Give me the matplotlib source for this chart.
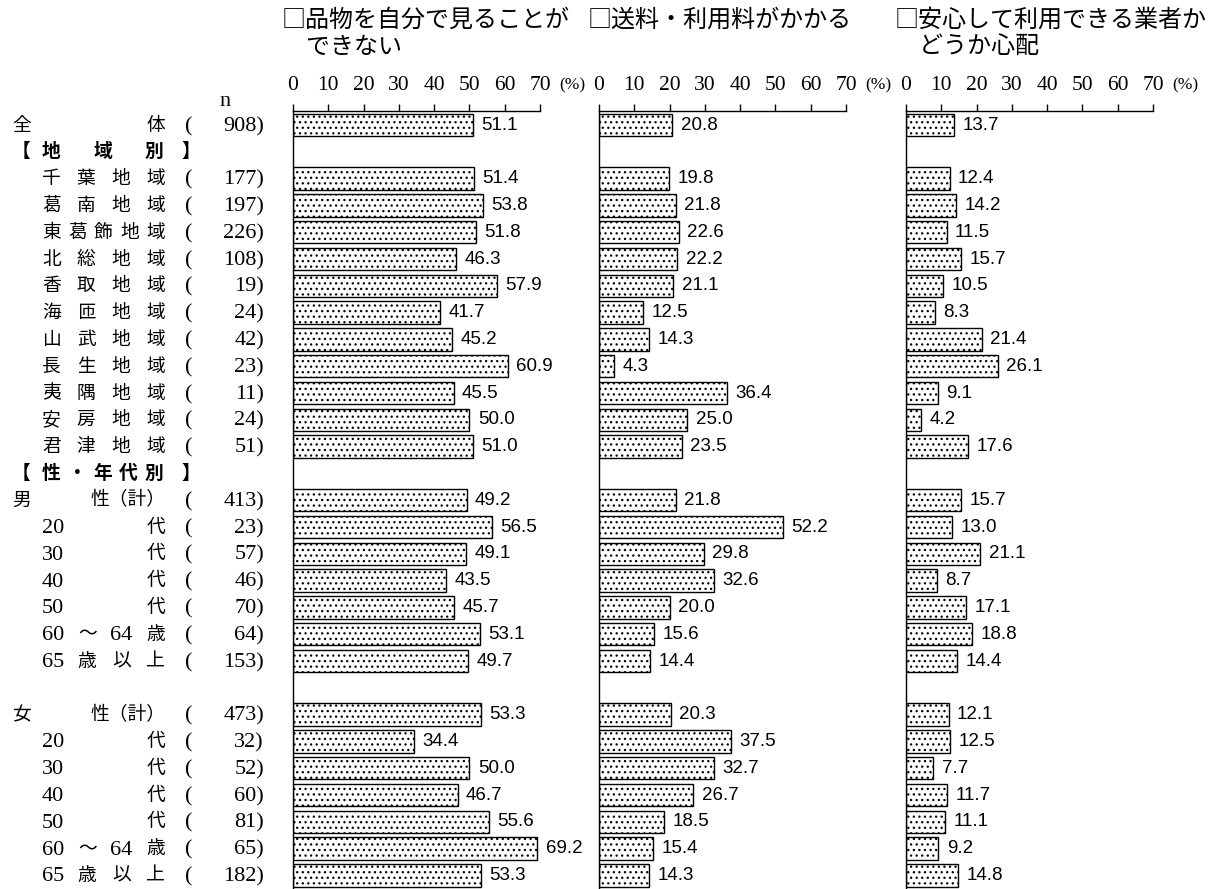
import matplotlib
matplotlib.use("Agg")
import matplotlib.pyplot as plt
from matplotlib.transforms import blended_transform_factory

# Data --------------------------------------------------------------
titles = [
    ["□品物を自分で見ることが", "　できない"],
    ["□送料・利用料がかかる"],
    ["□安心して利用できる業者か", "　どうか心配"],
]

# row labels (None = spacer row, "H:" = section header)
row_labels = [
    "全体",
    "H:地域別",
    "千葉地域", "葛南地域", "東葛飾地域", "北総地域", "香取地域", "海匝地域",
    "山武地域", "長生地域", "夷隅地域", "安房地域", "君津地域",
    "H:性・年代別",
    "男性（計）", "20代", "30代", "40代", "50代", "60～64歳", "65歳以上",
    None,
    "女性（計）", "20代", "30代", "40代", "50代", "60～64歳", "65歳以上",
]

n_counts = [
    908,
    None,
    177, 197, 226, 108, 19, 24, 42, 23, 11, 24, 51,
    None,
    413, 23, 57, 46, 70, 64, 153,
    None,
    473, 32, 52, 60, 81, 65, 182,
]

cannot_see_goods = [
    51.1,
    None,
    51.4, 53.8, 51.8, 46.3, 57.9, 41.7, 45.2, 60.9, 45.5, 50.0, 51.0,
    None,
    49.2, 56.5, 49.1, 43.5, 45.7, 53.1, 49.7,
    None,
    53.3, 34.4, 50.0, 46.7, 55.6, 69.2, 53.3,
]

shipping_fees = [
    20.8,
    None,
    19.8, 21.8, 22.6, 22.2, 21.1, 12.5, 14.3, 4.3, 36.4, 25.0, 23.5,
    None,
    21.8, 52.2, 29.8, 32.6, 20.0, 15.6, 14.4,
    None,
    20.3, 37.5, 32.7, 26.7, 18.5, 15.4, 14.3,
]

trustworthy_seller = [
    13.7,
    None,
    12.4, 14.2, 11.5, 15.7, 10.5, 8.3, 21.4, 26.1, 9.1, 4.2, 17.6,
    None,
    15.7, 13.0, 21.1, 8.7, 17.1, 18.8, 14.4,
    None,
    12.1, 12.5, 7.7, 11.7, 11.1, 9.2, 14.8,
]

series = [cannot_see_goods, shipping_fees, trustworthy_seller]
xticks = [0, 10, 20, 30, 40, 50, 60, 70]

# Layout (pixels) ------------------------------------------------------
W, H = 1221, 889
panel_left = [293, 599, 906]
panel_width = 247
axis_top = 111
row0_y = 125
row_step = 26.8

jp = ["Noto Sans CJK JP", "DejaVu Sans"]
serif = ["Liberation Serif", "DejaVu Serif"]
num_font = ["Liberation Sans", "DejaVu Sans"]

plt.rcParams["font.family"] = jp
plt.rcParams["hatch.linewidth"] = 0.9
plt.rcParams["hatch.color"] = "#3a3a3a"

jp_fs = 13.5      # kanji / kana in the row labels
digit_fs = 16     # latin digits and brackets in the row labels
serif_drop = 1.5 / row_step   # serif glyphs sit a little high when centred


def fx(px):
    return px / W


def fy(py):
    return 1 - py / H


def row_of(py):
    return (py - row0_y) / row_step


fig = plt.figure(figsize=(W / 100, H / 100), dpi=100)

ylo = row_of(H)
yhi = row_of(axis_top)

axes = []
for k, vals in enumerate(series):
    ax = fig.add_axes([fx(panel_left[k]), 0, fx(panel_width), 1 - axis_top / H])
    axes.append(ax)
    ys = [i for i, v in enumerate(vals) if v is not None]
    ws = [v for v in vals if v is not None]
    ax.barh(ys, ws, height=0.84, color="white", edgecolor="black",
            linewidth=1.0, hatch="...")
    for y, v in zip(ys, ws):
        ax.annotate(f"{v:.1f}", xy=(v, y), xytext=(6, 0), textcoords="offset points",
                    va="center", ha="left", fontsize=13.5, family=num_font)
    ax.set_xlim(0, 70)
    ax.set_ylim(ylo, yhi)
    ax.set_xticks(xticks)
    ax.xaxis.tick_top()
    ax.tick_params(axis="x", direction="out", length=5, width=1, pad=6.5,
                   labelsize=15.5)
    for lab in ax.get_xticklabels():
        lab.set_family(serif)
    ax.set_yticks([])
    for side in ["right", "bottom"]:
        ax.spines[side].set_visible(False)
    ax.spines["top"].set_linewidth(1.0)
    ax.spines["left"].set_linewidth(1.0)
    ax.patch.set_alpha(0)

    # unit after the last tick
    fig.text(fx(panel_left[k] + panel_width + 19), fy(89), "(%)", fontsize=12.5,
             family=serif, ha="left", va="baseline")

    # panel heading
    for j, line in enumerate(titles[k]):
        fig.text(fx(panel_left[k] - 11), fy(20 + 27 * j), line, fontsize=17.3,
                 ha="left", va="center")

# Row labels -------------------------------------------------------------
trans = blended_transform_factory(fig.transFigure, axes[0].transData)


def is_latin(tok):
    return all(ord(c) < 256 for c in tok)


def approx_width(tok, fs):
    em = fs * 100 / 72
    return sum(em if ord(c) > 255 else 0.5 * em for c in tok)


def put(x, y, tok, ha, **extra):
    if is_latin(tok):
        fig.text(fx(x), y + serif_drop, tok, ha=ha, va="center", transform=trans,
                 fontsize=digit_fs, family=serif, **extra)
    else:
        fig.text(fx(x), y, tok, ha=ha, va="center", transform=trans,
                 fontsize=jp_fs, family=jp, **extra)


def spread(tokens, x0, x1, y, **extra):
    sizes = [digit_fs if is_latin(t) else jp_fs for t in tokens]
    widths = [approx_width(t, s) for t, s in zip(tokens, sizes)]
    if len(tokens) == 1:
        put(x0, y, tokens[0], "left", **extra)
        return
    c_first = x0 + widths[0] / 2
    c_last = x1 - widths[-1] / 2
    step = (c_last - c_first) / (len(tokens) - 1)
    for i, t in enumerate(tokens):
        put(c_first + i * step, y, t, "center", **extra)


def split_label(name):
    if name.endswith("代"):
        return [name[:-1], "代"]
    if "～" in name:
        a, b = name.split("～")
        return [a, "～", b[:-1], b[-1]]
    if name.endswith("歳以上"):
        return [name[:2], "歳", "以", "上"]
    if name.endswith("（計）"):
        return [name[0], name[1:]]
    return list(name)


for i, name in enumerate(row_labels):
    if name is None:
        continue
    if name.startswith("H:"):
        body = name[2:]
        put(12, i, "【", "left", weight="bold")
        put(200, i, "】", "right", weight="bold")
        spread(list(body), 42, 163, i, weight="bold")
        continue
    top_level = name == "全体" or name.endswith("（計）")
    x0 = 12 if top_level else 42
    spread(split_label(name), x0, 165, i)
    put(185, i, "(", "left")
    put(264, i, f"{n_counts[i]})", "right")

fig.text(fx(225), fy(101), "n", ha="center", va="center", fontsize=digit_fs,
         family=serif)

fig.savefig("out.png", dpi=100)
